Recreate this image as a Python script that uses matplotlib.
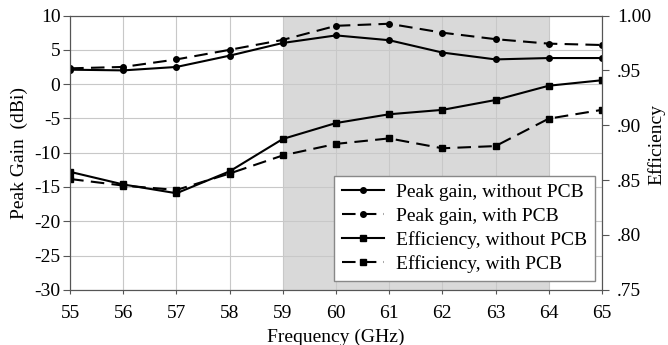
import matplotlib.pyplot as plt
import numpy as np

plt.rcParams['font.family'] = ['Liberation Serif', 'DejaVu Serif']
plt.rcParams['axes.unicode_minus'] = False

freq = [55, 56, 57, 58, 59, 60, 61, 62, 63, 64, 65]
gain_without = [2.1, 2.0, 2.5, 4.15, 6.0, 7.1, 6.4, 4.6, 3.6, 3.8, 3.8]
gain_with = [2.3, 2.5, 3.6, 5.0, 6.45, 8.5, 8.8, 7.5, 6.55, 5.9, 5.7]
eff_without = [0.8575, 0.846, 0.838, 0.858, 0.8875, 0.902, 0.910, 0.914, 0.923, 0.936, 0.941]
eff_with = [0.851, 0.845, 0.841, 0.856, 0.8725, 0.883, 0.888, 0.879, 0.881, 0.906, 0.914]
band = (59, 64)

fig, ax = plt.subplots(figsize=(6.68, 3.45), dpi=100)
fig.subplots_adjust(left=0.105, right=0.901, top=0.955, bottom=0.16)
ax2 = ax.twinx()

ax.axvspan(band[0], band[1], color='#d9d9d9', zorder=0, lw=0)
ax.grid(True, color='#c8c8c8', lw=0.8, zorder=1)
ax.set_axisbelow(True)

h1, = ax.plot(freq, gain_without, 'k-', marker='o', ms=4, lw=1.5, label='Peak gain, without PCB', zorder=3)
h2, = ax.plot(freq, gain_with, 'k--', marker='o', ms=4, lw=1.5, dashes=(6.5, 3.5), label='Peak gain, with PCB', zorder=3)
h3, = ax2.plot(freq, eff_without, 'k-', marker='s', ms=4, lw=1.5, label='Efficiency, without PCB')
h4, = ax2.plot(freq, eff_with, 'k--', marker='s', ms=4, lw=1.5, dashes=(6.5, 3.5), label='Efficiency, with PCB')

ax.set_xlim(55, 65)
ax.set_ylim(-30, 10)
ax.set_xticks(freq)
ax.set_yticks(np.arange(-30, 11, 5))
ax2.set_ylim(0.75, 1.00)
eff_ticks = [0.75, 0.80, 0.85, 0.90, 0.95, 1.00]
ax2.set_yticks(eff_ticks)
ax2.set_yticklabels(['.75', '.80', '.85', '.90', '.95', '1.00'])

for a in (ax, ax2):
    a.tick_params(labelsize=14, direction='out', length=5, color='#555555', pad=2)
    for s in a.spines.values():
        s.set_color('#555555')
ax.tick_params(axis='x', length=3, pad=8)
ax2.tick_params(axis='y', pad=6)

ax.set_xlabel('Frequency (GHz)', fontsize=14, labelpad=5)
ax.set_ylabel('Peak Gain  (dBi)', fontsize=14)
ax.yaxis.set_label_coords(-0.079, 0.5)
ax2.set_ylabel('Efficiency', fontsize=14)
ax2.yaxis.set_label_coords(1.086, 0.53)

leg = ax2.legend(handles=[h1, h2, h3, h4], loc='lower right', fontsize=14,
                 fancybox=False, framealpha=1, edgecolor='#888888',
                 handlelength=2.2, handletextpad=0.6, borderpad=0.4,
                 labelspacing=0.32, borderaxespad=0,
                 bbox_to_anchor=(0.987, 0.033))
leg.get_frame().set_linewidth(1.0)

plt.savefig('out.png', dpi=100)
